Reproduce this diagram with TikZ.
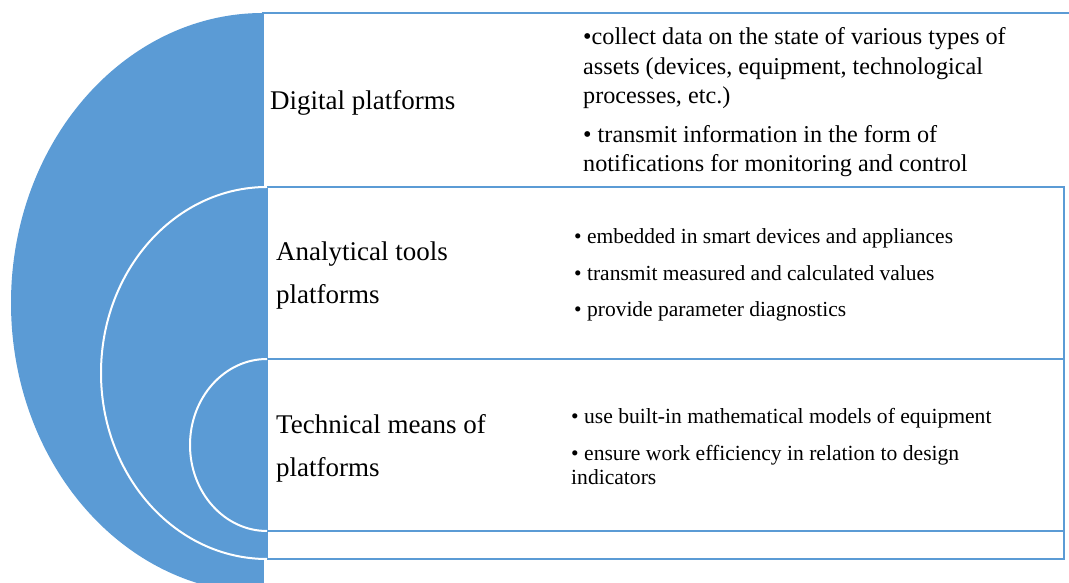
\documentclass[tikz,border=0pt]{standalone}
\usepackage{fontspec}
\setmainfont{Liberation Serif}
\definecolor{ringblue}{RGB}{91,155,213}
\begin{document}
\begin{tikzpicture}[x=1pt,y=1pt,
  panel/.style={draw=ringblue, line width=2pt, fill=white},
  ringfill/.style={fill=ringblue},
  ringedge/.style={draw=white, line width=2pt},
  tier/.style={anchor=west, inner sep=0pt, align=left,
    font=\fontsize{27}{43}\selectfont},
  notes/.style={anchor=north west, inner sep=0pt, align=left}]
\useasboundingbox (0,0) rectangle (1069,583);
\begin{scope}
  \clip (0,0) rectangle (1069,583);
  % outer tier: panel and half disc
  \draw[panel] (263,570) rectangle (1090,-20);
  \fill[ringfill] (263,570) arc[start angle=90, end angle=270, x radius=252pt, y radius=290pt] -- cycle;
  % middle tier
  \draw[panel] (267,396) rectangle (1064,24);
  \fill[ringfill] (267,396) arc[start angle=90, end angle=270, x radius=166pt, y radius=186pt] -- cycle;
  \draw[ringedge] (267,396) arc[start angle=90, end angle=270, x radius=166pt, y radius=186pt];
  % inner tier
  \draw[panel] (267,224) rectangle (1064,52);
  \fill[ringfill] (267,224) arc[start angle=90, end angle=270, x radius=77pt, y radius=86pt] -- cycle;
  \draw[ringedge] (267,224) arc[start angle=90, end angle=270, x radius=77pt, y radius=86pt];
\end{scope}
% tier titles
\node[tier] (digital) at (270,480) {Digital platforms};
\node[tier] (analytic) at (276,307.5) {Analytical tools\\platforms};
\node[tier] (technical) at (276,135) {Technical means of\\platforms};
% tier descriptions
\node[notes, font=\fontsize{24.2}{29.3}\selectfont] (digitalnotes) at (583,555.5)
  {•collect data on the state of various types of\\
   assets (devices, equipment, technological\\
   processes, etc.)\\[9.5pt]
   • transmit information in the form of\\
   notifications for monitoring and control};
\node[notes, font=\fontsize{21.5}{36.5}\selectfont] (analyticnotes) at (574,354.5)
  {• embedded in smart devices and appliances\\
   • transmit measured and calculated values\\
   • provide parameter diagnostics};
\node[notes, font=\fontsize{21.6}{24.2}\selectfont] (technicalnotes) at (571,175)
  {• use built-in mathematical models of equipment\\[13pt]
   • ensure work efficiency in relation to design\\
   indicators};
\end{tikzpicture}
\end{document}
